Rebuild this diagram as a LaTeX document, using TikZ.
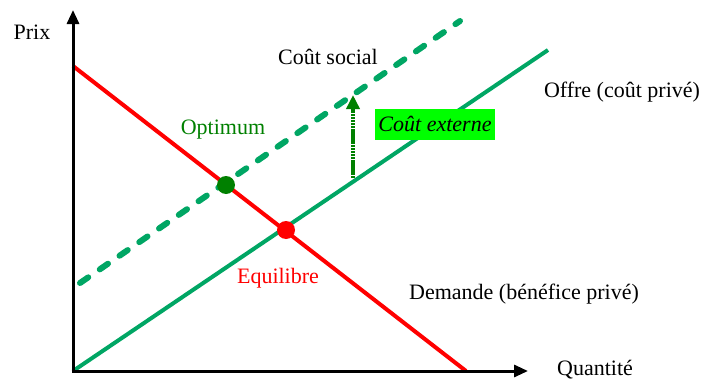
\documentclass[tikz,border=0pt]{standalone}
\usepackage{fontspec}
\setmainfont{Liberation Serif}
\usetikzlibrary{arrows.meta}
\definecolor{offregreen}{RGB}{0,166,100}
\definecolor{darkgreen}{RGB}{0,128,0}
\definecolor{boxgreen}{RGB}{0,255,0}
\tikzset{
  lbl/.style={font=\fontsize{22}{25}\selectfont, inner sep=0pt},
  axis/.style={line width=3pt, -{Triangle[length=14pt,width=12pt]}},
  curve/.style={line width=4pt},
  dot/.style={circle, inner sep=0pt, minimum size=18pt}
}
\begin{document}
\begin{tikzpicture}[x=1pt,y=-1pt]
\useasboundingbox (0,0) rectangle (705,383);
% coordinates
\coordinate (O) at (73,371);
\coordinate (Ytop) at (73,10);
\coordinate (Xend) at (528,371);
\coordinate (Dtop) at (73,66);
\coordinate (Dbot) at (466,371);
\coordinate (Stop) at (548,50);
\coordinate (Cbot) at (80,283);
\coordinate (Ctop) at (460,21);
\coordinate (Abot) at (353,178);
\coordinate (Atop) at (353,95);
% curves
\draw[curve, offregreen] (O) -- (Stop);
\draw[line width=6pt, offregreen, dash pattern=on 10pt off 14pt, line cap=round] (Cbot) -- (Ctop);
\draw[curve, red] (Dtop) -- (Dbot);
% axes
\draw[axis] (O) -- (Ytop);
\draw[axis] ([xshift=-1.5pt]O) -- (Xend);
% dots
\node[dot, fill=darkgreen] (opt) at (226,185) {};
\node[dot, fill=red] (eq) at (286,230) {};
% external cost arrow
\draw[line width=4pt, darkgreen, dash pattern=on 2.5pt off 0.6pt, -{Triangle[length=14pt,width=13pt]}] (Abot) -- (Atop);
\node[lbl, fill=boxgreen, minimum width=120pt, minimum height=31pt, font=\fontsize{22}{25}\selectfont\itshape] (ext) at (435,124) {Coût externe};
% labels
\node[lbl] (prix) at (32,32) {Prix};
\node[lbl] (social) at (328,57) {Coût social};
\node[lbl, text=darkgreen] (optl) at (223,130) {Optimum};
\node[lbl, text=red] (eql) at (278,278) {Equilibre};
\node[lbl] (offre) at (622,92) {Offre (coût privé)};
\node[lbl] (dem) at (524,294) {Demande (bénéfice privé)};
\node[lbl] (qte) at (595,370) {Quantité};
\end{tikzpicture}
\end{document}
